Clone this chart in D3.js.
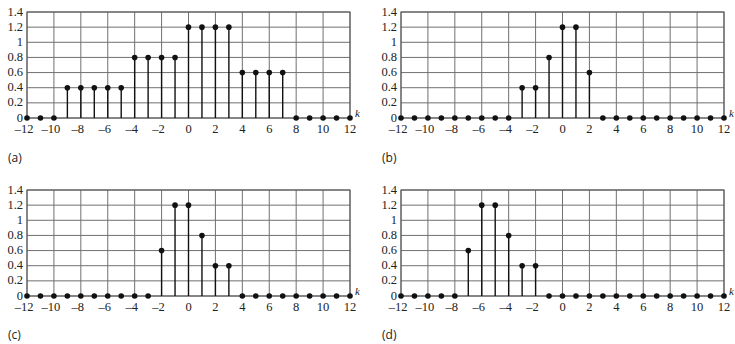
<!DOCTYPE html>
<html>
<head>
<meta charset="utf-8">
<script src="https://cdn.jsdelivr.net/npm/d3@7"></script>
<style>
body { margin: 0; background: #fff; }
svg { display: block; }
.tick-label { font-family: "Liberation Serif", "Times New Roman", serif; font-size: 12.5px; fill: #222; }
.panel-label { font-family: "Open Sans", "Noto Sans", sans-serif; font-size: 12px; fill: #222; }
</style>
</head>
<body>
<script>
// k = -12 .. 12
var kValues = d3.range(-12, 13);
var seriesA = [0, 0, 0, 0.4, 0.4, 0.4, 0.4, 0.4, 0.8, 0.8, 0.8, 0.8, 1.2, 1.2, 1.2, 1.2, 0.6, 0.6, 0.6, 0.6, 0, 0, 0, 0, 0];
var seriesB = [0, 0, 0, 0, 0, 0, 0, 0, 0, 0.4, 0.4, 0.8, 1.2, 1.2, 0.6, 0, 0, 0, 0, 0, 0, 0, 0, 0, 0];
var seriesC = [0, 0, 0, 0, 0, 0, 0, 0, 0, 0, 0.6, 1.2, 1.2, 0.8, 0.4, 0.4, 0, 0, 0, 0, 0, 0, 0, 0, 0];
var seriesD = [0, 0, 0, 0, 0, 0.6, 1.2, 1.2, 0.8, 0.4, 0.4, 0, 0, 0, 0, 0, 0, 0, 0, 0, 0, 0, 0, 0, 0];
var xTicks = [-12, -10, -8, -6, -4, -2, 0, 2, 4, 6, 8, 10, 12];
var yTicks = [0, 0.2, 0.4, 0.6, 0.8, 1, 1.2, 1.4];
var panelLabels = ["(a)", "(b)", "(c)", "(d)"];

var svg = d3.select("body").append("svg")
	.attr("width", 735)
	.attr("height", 344);

var panels = [
	{ data: seriesA, left: 27, right: 350, top: 12, bottom: 118, lx: 8, ly: 162 },
	{ data: seriesB, left: 401, right: 724, top: 12, bottom: 118, lx: 382, ly: 162 },
	{ data: seriesC, left: 27, right: 350, top: 190, bottom: 296, lx: 8, ly: 339 },
	{ data: seriesD, left: 401, right: 724, top: 190, bottom: 296, lx: 382, ly: 339 }
];

function fmt(v) {
	var s = String(Math.abs(v));
	return v < 0 ? "\u2013" + s : s;
}

panels.forEach(function (p, i) {
	var x = d3.scaleLinear().domain([-12, 12]).range([p.left, p.right]);
	var y = d3.scaleLinear().domain([0, 1.4]).range([p.bottom, p.top]);
	var g = svg.append("g");

	// grid
	g.selectAll(".vg").data(xTicks).enter().append("line")
		.attr("x1", function (d) { return x(d); })
		.attr("x2", function (d) { return x(d); })
		.attr("y1", p.top)
		.attr("y2", p.bottom)
		.attr("stroke", "#707070")
		.attr("stroke-width", 1);

	g.selectAll(".hg").data(yTicks).enter().append("line")
		.attr("x1", p.left)
		.attr("x2", p.right)
		.attr("y1", function (d) { return y(d); })
		.attr("y2", function (d) { return y(d); })
		.attr("stroke", "#707070")
		.attr("stroke-width", 1);

	// frame
	g.append("rect")
		.attr("x", p.left)
		.attr("y", p.top)
		.attr("width", p.right - p.left)
		.attr("height", p.bottom - p.top)
		.attr("fill", "none")
		.attr("stroke", "#555")
		.attr("stroke-width", 1);

	// tick labels
	g.selectAll(".yl").data(yTicks).enter().append("text")
		.attr("class", "tick-label")
		.attr("x", p.left - 4)
		.attr("y", function (d) { return y(d) + 3.5; })
		.attr("text-anchor", "end")
		.text(function (d) { return fmt(d); });

	g.selectAll(".xl").data(xTicks).enter().append("text")
		.attr("class", "tick-label")
		.attr("x", function (d) { return x(d) - (d < 0 ? 3 : 0); })
		.attr("y", p.bottom + 14.5)
		.attr("text-anchor", "middle")
		.text(function (d) { return fmt(d); });

	g.append("text")
		.attr("class", "tick-label")
		.attr("x", p.right + 5)
		.attr("y", p.bottom - 1)
		.style("font-style", "italic")
		.style("font-size", "11px")
		.text("k");

	// stems
	var pts = kValues.map(function (k, j) { return { k: k, v: p.data[j] }; });
	g.selectAll(".stem").data(pts.filter(function (d) { return d.v > 0; })).enter().append("line")
		.attr("x1", function (d) { return x(d.k); })
		.attr("x2", function (d) { return x(d.k); })
		.attr("y1", y(0))
		.attr("y2", function (d) { return y(d.v); })
		.attr("stroke", "#111")
		.attr("stroke-width", 1.4);

	g.selectAll(".dot").data(pts).enter().append("circle")
		.attr("cx", function (d) { return x(d.k); })
		.attr("cy", function (d) { return y(d.v); })
		.attr("r", 2.8)
		.attr("fill", "#111");

	svg.append("text")
		.attr("class", "panel-label")
		.attr("x", p.lx)
		.attr("y", p.ly)
		.text(panelLabels[i]);
});
</script>
</body>
</html>
